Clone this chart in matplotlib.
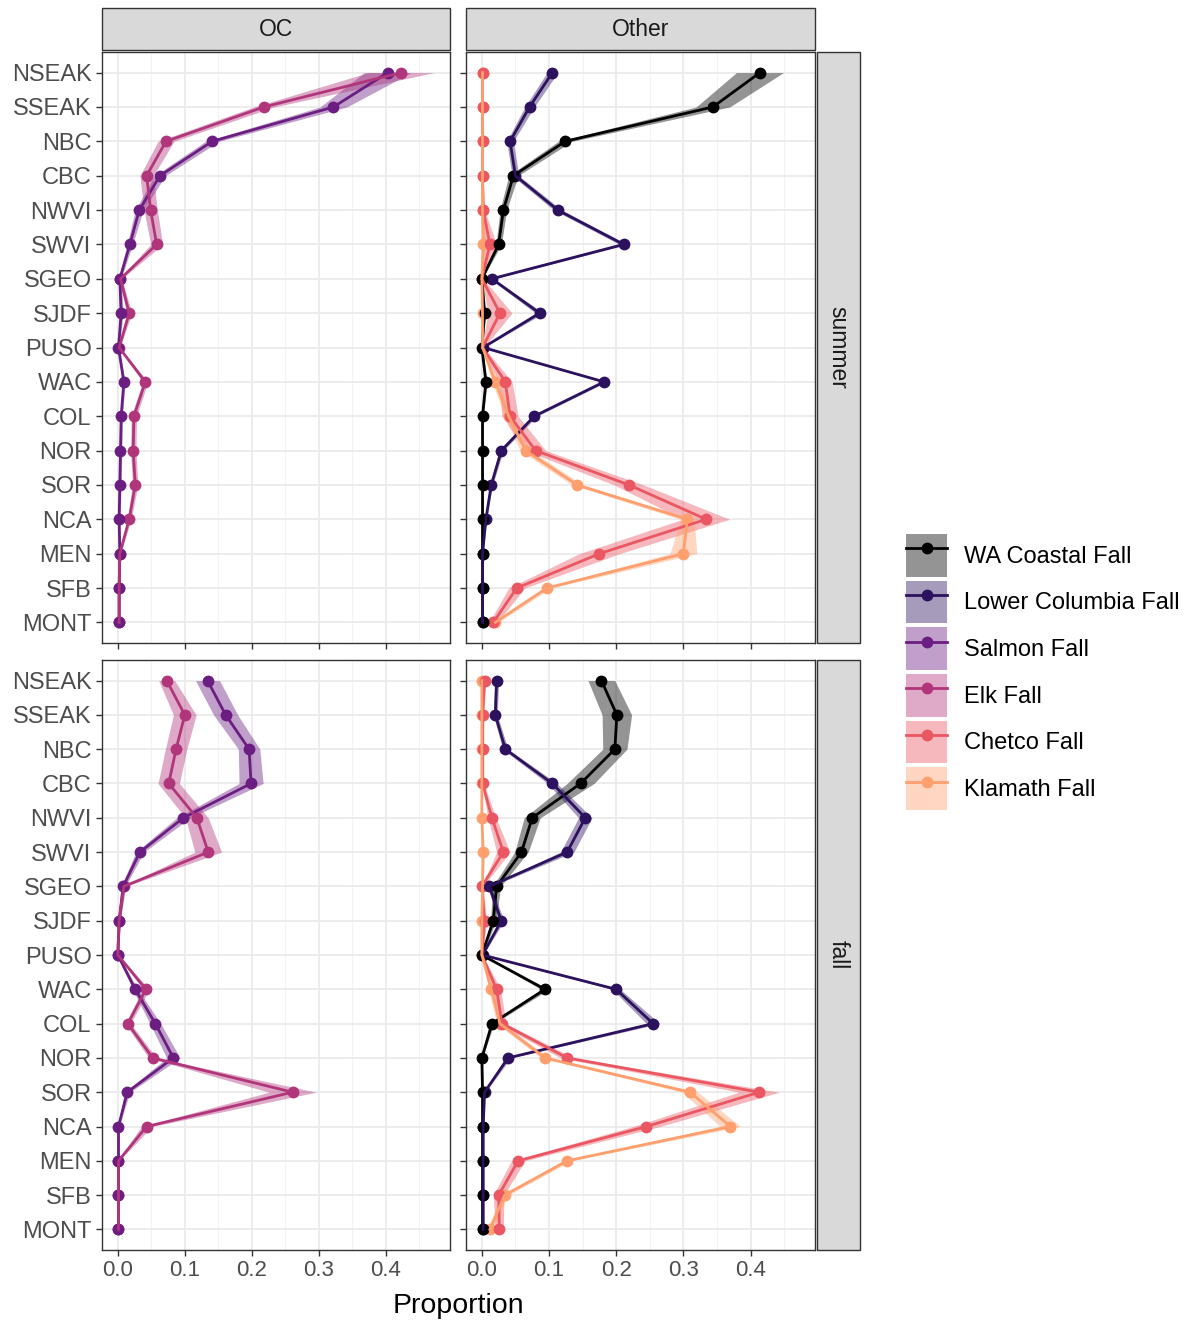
import numpy as np
import matplotlib
matplotlib.use("Agg")
import matplotlib.pyplot as plt
from matplotlib.patches import Patch, Rectangle
from matplotlib.lines import Line2D

plt.rcParams['font.family'] = ['Liberation Sans', 'DejaVu Sans']

# ---- data ----
sites = ["NSEAK", "SSEAK", "NBC", "CBC", "NWVI", "SWVI", "SGEO", "SJDF", "PUSO",
         "WAC", "COL", "NOR", "SOR", "NCA", "MEN", "SFB", "MONT"]
stocks = ["WA Coastal Fall", "Lower Columbia Fall", "Salmon Fall",
          "Elk Fall", "Chetco Fall", "Klamath Fall"]
stock_colors = ["#000000", "#2C115F", "#6B1D81", "#B1357B", "#EA5661", "#FE9F6D"]
regions = ["OC", "Other"]
seasons = ["summer", "fall"]
x_ticks = [0.0, 0.1, 0.2, 0.3, 0.4]

# OC summer
oc_summer_salmon = [0.403, 0.322, 0.141, 0.063, 0.032, 0.018, 0.003, 0.005, 0.001,
                    0.009, 0.005, 0.004, 0.003, 0.002, 0.003, 0.002, 0.002]
oc_summer_salmon_se = [0.035, 0.020, 0.010, 0.008, 0.006, 0.004, 0.002, 0.003, 0.001,
                       0.002, 0.002, 0.002, 0.002, 0.001, 0.001, 0.001, 0.001]
oc_summer_elk = [0.423, 0.218, 0.072, 0.043, 0.049, 0.058, 0.004, 0.017, 0.002,
                 0.041, 0.024, 0.023, 0.026, 0.017, 0.003, 0.002, 0.002]
oc_summer_elk_se = [0.049, 0.015, 0.012, 0.010, 0.010, 0.009, 0.002, 0.004, 0.001,
                    0.004, 0.004, 0.004, 0.004, 0.003, 0.001, 0.001, 0.001]

# OC fall
oc_fall_salmon = [0.134, 0.161, 0.196, 0.199, 0.098, 0.033, 0.008, 0.002, 0.000,
                  0.026, 0.056, 0.083, 0.014, 0.001, 0.001, 0.001, 0.001]
oc_fall_salmon_se = [0.018, 0.018, 0.016, 0.018, 0.010, 0.006, 0.003, 0.002, 0.001,
                     0.004, 0.008, 0.010, 0.004, 0.001, 0.001, 0.001, 0.001]
oc_fall_elk = [0.073, 0.100, 0.087, 0.076, 0.118, 0.135, 0.009, 0.002, 0.000,
               0.042, 0.015, 0.052, 0.261, 0.043, 0.001, 0.001, 0.001]
oc_fall_elk_se = [0.012, 0.017, 0.016, 0.016, 0.017, 0.020, 0.003, 0.001, 0.001,
                  0.005, 0.004, 0.006, 0.035, 0.008, 0.001, 0.001, 0.001]

# Other summer
other_summer_wa = [0.414, 0.344, 0.124, 0.047, 0.032, 0.025, 0.000, 0.004, 0.000,
                   0.006, 0.001, 0.001, 0.001, 0.001, 0.001, 0.001, 0.001]
other_summer_wa_se = [0.035, 0.025, 0.010, 0.007, 0.005, 0.004, 0.001, 0.002, 0.001,
                      0.002, 0.001, 0.001, 0.001, 0.001, 0.001, 0.001, 0.001]
other_summer_lc = [0.105, 0.071, 0.042, 0.050, 0.113, 0.211, 0.015, 0.086, 0.002,
                   0.182, 0.078, 0.029, 0.014, 0.006, 0.001, 0.001, 0.001]
other_summer_lc_se = [0.008, 0.007, 0.005, 0.005, 0.006, 0.006, 0.003, 0.006, 0.001,
                      0.004, 0.004, 0.003, 0.002, 0.001, 0.001, 0.001, 0.001]
other_summer_chetco = [0.001, 0.001, 0.001, 0.001, 0.002, 0.012, 0.000, 0.027, 0.001,
                       0.035, 0.042, 0.080, 0.219, 0.334, 0.175, 0.052, 0.017]
other_summer_chetco_se = [0.001, 0.001, 0.001, 0.001, 0.002, 0.010, 0.002, 0.018, 0.002,
                          0.010, 0.012, 0.015, 0.022, 0.035, 0.030, 0.012, 0.006]
other_summer_klamath = [0.001, 0.001, 0.001, 0.001, 0.001, 0.002, 0.000, 0.001, 0.001,
                        0.020, 0.040, 0.065, 0.142, 0.306, 0.300, 0.097, 0.020]
other_summer_klamath_se = [0.001, 0.001, 0.001, 0.001, 0.001, 0.004, 0.001, 0.001, 0.001,
                           0.005, 0.006, 0.008, 0.008, 0.010, 0.020, 0.006, 0.004]

# Other fall
other_fall_wa = [0.178, 0.201, 0.198, 0.147, 0.075, 0.059, 0.022, 0.017, 0.000,
                 0.094, 0.015, 0.000, 0.001, 0.001, 0.001, 0.001, 0.001]
other_fall_wa_se = [0.020, 0.022, 0.018, 0.020, 0.012, 0.010, 0.006, 0.004, 0.001,
                    0.006, 0.003, 0.001, 0.001, 0.001, 0.001, 0.001, 0.001]
other_fall_lc = [0.022, 0.020, 0.035, 0.105, 0.154, 0.127, 0.011, 0.029, 0.001,
                 0.200, 0.255, 0.039, 0.004, 0.002, 0.002, 0.002, 0.002]
other_fall_lc_se = [0.003, 0.003, 0.004, 0.007, 0.010, 0.010, 0.003, 0.004, 0.001,
                    0.006, 0.010, 0.004, 0.001, 0.001, 0.001, 0.001, 0.001]
other_fall_chetco = [0.004, 0.001, 0.001, 0.001, 0.015, 0.032, 0.000, 0.004, 0.000,
                     0.022, 0.030, 0.127, 0.413, 0.245, 0.054, 0.025, 0.026]
other_fall_chetco_se = [0.002, 0.002, 0.002, 0.002, 0.006, 0.010, 0.002, 0.003, 0.001,
                        0.006, 0.006, 0.010, 0.030, 0.020, 0.010, 0.008, 0.006]
other_fall_klamath = [0.000, 0.000, 0.000, 0.000, 0.000, 0.002, 0.001, 0.000, 0.000,
                      0.014, 0.027, 0.094, 0.310, 0.370, 0.127, 0.034, 0.012]
other_fall_klamath_se = [0.001, 0.001, 0.001, 0.001, 0.001, 0.001, 0.001, 0.001, 0.001,
                         0.004, 0.005, 0.006, 0.012, 0.015, 0.006, 0.005, 0.004]

panels = {
    ("OC", "summer"): [("Salmon Fall", oc_summer_salmon, oc_summer_salmon_se),
                       ("Elk Fall", oc_summer_elk, oc_summer_elk_se)],
    ("OC", "fall"): [("Salmon Fall", oc_fall_salmon, oc_fall_salmon_se),
                     ("Elk Fall", oc_fall_elk, oc_fall_elk_se)],
    ("Other", "summer"): [("WA Coastal Fall", other_summer_wa, other_summer_wa_se),
                          ("Lower Columbia Fall", other_summer_lc, other_summer_lc_se),
                          ("Chetco Fall", other_summer_chetco, other_summer_chetco_se),
                          ("Klamath Fall", other_summer_klamath, other_summer_klamath_se)],
    ("Other", "fall"): [("WA Coastal Fall", other_fall_wa, other_fall_wa_se),
                        ("Lower Columbia Fall", other_fall_lc, other_fall_lc_se),
                        ("Chetco Fall", other_fall_chetco, other_fall_chetco_se),
                        ("Klamath Fall", other_fall_klamath, other_fall_klamath_se)],
}

colors = dict(zip(stocks, stock_colors))
ribbon_alpha = 0.42

# ---- figure ----
W, H = 1188, 1323
fig = plt.figure(figsize=(W / 100, H / 100), dpi=100)

col_x = [(102, 450), (466, 815)]
row_y = [(52, 643), (660, 1250)]
border = "#333333"
ypos = np.arange(len(sites))


def fig_rect(x0, x1, y0, y1):
    return [x0 / W, 1 - y1 / H, (x1 - x0) / W, (y1 - y0) / H]


for ci, region in enumerate(regions):
    for ri, season in enumerate(seasons):
        x0, x1 = col_x[ci]
        y0, y1 = row_y[ri]
        ax = fig.add_axes(fig_rect(x0, x1, y0, y1))
        series = panels[(region, season)]
        # ribbons, then points, then lines
        for name, vals, se in series:
            v = np.array(vals)
            s = np.array(se)
            ax.fill_betweenx(ypos, np.clip(v - s, 0, None), v + s,
                             color=colors[name], alpha=ribbon_alpha, lw=0, zorder=2)
        for name, vals, se in series[::-1]:
            ax.plot(vals, ypos, 'o', color=colors[name], ms=8.5, mew=0, zorder=3)
        for name, vals, se in series:
            ax.plot(vals, ypos, '-', color=colors[name], lw=2.0, zorder=4)

        ax.set_xlim(-0.0236, 0.496)
        ax.set_ylim(len(sites) - 0.4, -0.6)
        ax.set_xticks(x_ticks)
        ax.set_xticks([0.05, 0.15, 0.25, 0.35, 0.45], minor=True)
        ax.set_yticks(ypos)
        ax.grid(which='major', color='#EBEBEB', lw=1.3, zorder=0)
        ax.grid(which='minor', axis='x', color='#F2F2F2', lw=0.8, zorder=0)
        ax.set_axisbelow(True)
        for sp in ax.spines.values():
            sp.set_color(border)
            sp.set_linewidth(1.0)
        ax.tick_params(which='major', length=4, width=1.0, color=border,
                       labelcolor='#4D4D4D', labelsize=16)
        ax.tick_params(axis='y', labelsize=17)
        ax.tick_params(which='minor', length=0)
        if ci == 0:
            ax.set_yticklabels(sites)
        else:
            ax.set_yticklabels([])
        if ri == 1:
            ax.set_xticklabels([f"{t:.1f}" for t in x_ticks])
        else:
            ax.set_xticklabels([])

        # top strips
        if ri == 0:
            fig.patches.append(Rectangle((x0 / W, 1 - 50 / H), (x1 - x0) / W, 42 / H,
                                         transform=fig.transFigure, facecolor='#D9D9D9',
                                         edgecolor=border, lw=1.0))
            fig.text((x0 + x1) / 2 / W, 1 - 29 / H, region, ha='center', va='center',
                     fontsize=16.5, color='#1A1A1A')
        # right strips
        if ci == 1:
            fig.patches.append(Rectangle((817 / W, 1 - y1 / H), 43 / W, (y1 - y0) / H,
                                         transform=fig.transFigure, facecolor='#D9D9D9',
                                         edgecolor=border, lw=1.0))
            fig.text(838 / W, 1 - (y0 + y1) / 2 / H, season, ha='center', va='center',
                     rotation=-90, fontsize=16.5, color='#1A1A1A')

fig.text(458 / W, 1 - 1306 / H, "Proportion", ha='center', va='center',
         fontsize=20.5, color='black')

handles = [(Patch(facecolor=colors[s], alpha=ribbon_alpha, lw=0),
            Line2D([], [], color=colors[s], lw=2.0, marker='o', ms=8.5, mew=0))
           for s in stocks]
fig.legend(handles, stocks, loc='center left', bbox_to_anchor=(906 / W, 1 - 672 / H),
           frameon=False, fontsize=17, handlelength=1.75, handleheight=2.4,
           labelspacing=0.17, handletextpad=0.7, borderpad=0, borderaxespad=0)

fig.savefig("out.png", dpi=100)
